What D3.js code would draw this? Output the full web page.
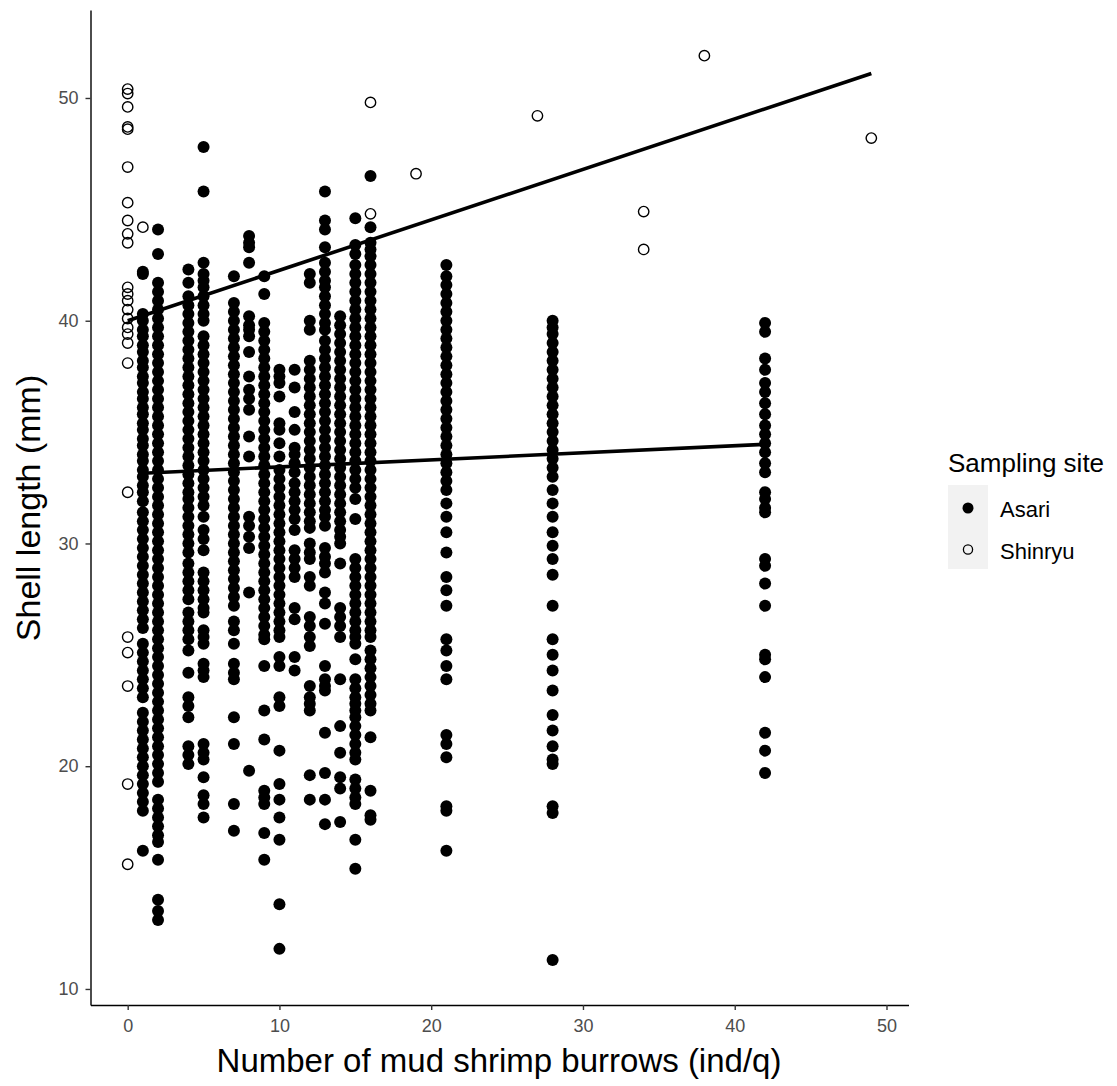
<!DOCTYPE html>
<html>
<head>
<meta charset="utf-8">
<script src="https://cdn.jsdelivr.net/npm/d3@7"></script>
<style>
html,body{margin:0;padding:0;background:#fff;}
text{font-family:"Liberation Sans",Arial,sans-serif;}
</style>
</head>
<body>
<svg id="chart" width="1117" height="1086"></svg>
<script>
// ---------- data ----------
const xTicks = [0, 10, 20, 30, 40, 50];
const yTicks = [10, 20, 30, 40, 50];
const siteNames = ["Asari", "Shinryu"];

// Shinryu (open circles)
const shinryuX = [0,0,0,0,0,0,0,0,0,0,1,0,0,0,0,0,0,0,0,0,0,0,0,0,0,0,16,16,19,27,34,34,38,49];
const shinryuY = [50.4,50.2,49.6,48.7,48.6,46.9,45.3,44.5,43.9,43.5,44.2,41.5,41.2,40.9,40.5,40.1,39.7,39.4,39.0,38.1,32.3,25.8,25.1,23.6,19.2,15.6,49.8,44.8,46.6,49.2,44.9,43.2,51.9,48.2];

// Asari (filled dots), shell lengths per burrow count
const asariX = [1, 2, 4, 5, 7, 8, 9, 10, 11, 12, 13, 14, 15, 16, 21, 28, 42];
const asari1 = [42.2,42.1,40.3,40.0,39.6,39.3,38.9,38.6,38.2,37.9,37.5,37.2,36.8,36.5,36.1,35.8,35.4,35.1,34.7,34.4,34.0,33.7,33.3,33.0,32.6,32.3,31.9,31.4,31.0,30.6,30.2,29.8,29.4,29.0,28.6,28.2,27.8,27.4,27.0,26.6,26.2,25.5,25.1,24.7,24.3,23.9,23.5,23.1,22.4,22.0,21.6,21.2,20.8,20.4,20.0,19.6,19.2,18.8,18.4,18.0,16.2];
const asari2 = [44.1,43.0,41.7,41.3,40.9,40.5,40.1,39.7,39.3,38.9,38.5,38.1,37.7,37.3,36.9,36.5,36.1,35.7,35.3,34.9,34.5,34.1,33.7,33.3,32.9,32.5,32.1,31.7,31.3,30.9,30.5,30.1,29.7,29.3,28.9,28.5,28.1,27.7,27.3,26.9,26.5,26.1,25.7,25.3,24.9,24.5,24.1,23.7,23.3,22.9,22.5,22.1,21.7,21.3,20.9,20.5,20.1,19.7,19.3,18.5,18.1,17.7,17.3,16.9,16.6,15.8,14.0,13.5,13.1];
const asari4 = [42.3,41.7,41.1,40.7,40.3,39.9,39.5,39.1,38.7,38.3,37.9,37.5,37.1,36.7,36.3,35.9,35.5,35.1,34.7,34.3,33.9,33.5,33.1,32.7,32.3,32.0,31.6,31.2,30.8,30.4,30.0,29.6,29.1,28.7,28.3,27.9,27.5,26.9,26.5,26.1,25.7,25.2,24.2,23.1,22.7,22.2,20.9,20.5,20.1];
const asari5 = [47.8,45.8,42.6,42.1,41.8,41.5,41.1,40.7,40.3,40.0,39.3,38.9,38.5,38.1,37.7,37.3,36.9,36.5,36.1,35.7,35.3,34.9,34.5,34.1,33.7,33.3,32.9,32.5,32.1,31.7,31.2,30.6,30.2,29.7,28.7,28.3,27.9,27.5,27.1,26.9,26.1,25.8,25.5,24.6,24.3,24.0,21.0,20.6,20.3,19.5,18.7,18.3,17.7];
const asari7 = [42.0,40.8,40.4,40.0,39.6,39.2,38.8,38.4,38.0,37.6,37.2,36.8,36.4,36.0,35.6,35.2,34.8,34.4,34.0,33.6,33.2,32.8,32.4,32.0,31.6,31.2,30.8,30.4,30.0,29.6,29.2,28.8,28.4,28.0,27.6,27.2,26.5,26.1,25.5,24.6,24.2,23.9,22.2,21.0,18.3,17.1];
const asari8 = [43.8,43.5,43.3,42.6,40.2,39.8,39.6,39.3,38.6,37.5,36.9,36.5,36.0,34.8,33.9,31.2,30.8,30.3,29.8,27.8,19.8];
const asari9 = [42.0,41.2,39.9,39.5,39.1,38.7,38.3,37.9,37.5,37.1,36.7,36.3,35.9,35.5,35.1,34.7,34.3,33.9,33.5,33.1,32.7,32.3,31.9,31.5,31.1,30.7,30.3,29.9,29.5,29.1,28.7,28.3,27.9,27.5,27.1,26.7,26.3,25.9,25.7,24.5,22.5,21.2,18.9,18.6,18.3,17.0,15.8];
const asari10 = [37.8,37.5,37.2,36.6,35.4,35.1,34.5,33.9,33.3,32.9,32.5,32.1,31.7,31.3,30.9,30.5,30.1,29.7,29.3,28.9,28.5,28.1,27.7,27.3,26.9,26.5,26.1,25.8,24.9,24.5,23.1,22.7,20.7,19.2,18.5,17.7,16.7,13.8,11.8];
const asari11 = [37.8,37.0,35.9,35.1,34.3,34.0,33.6,33.2,32.7,32.3,31.9,31.5,31.1,30.6,29.7,29.3,28.9,28.5,27.1,26.6,24.9,24.3];
const asari12 = [42.1,41.7,40.0,39.6,38.2,37.8,37.4,37.0,36.6,36.2,35.8,35.4,35.0,34.6,34.2,33.8,33.4,33.0,32.6,32.2,31.8,31.4,31.0,30.7,30.0,29.6,29.3,28.5,28.1,26.7,26.3,25.8,25.4,23.6,23.1,22.8,22.5,19.6,18.5];
const asari13 = [45.8,44.5,44.1,43.3,42.6,42.2,41.8,41.5,41.1,40.7,40.3,39.9,39.6,39.1,38.7,38.3,37.9,37.5,37.1,36.7,36.3,35.9,35.5,35.1,34.7,34.3,33.9,33.5,33.1,32.7,32.3,31.9,31.5,31.2,30.8,29.8,29.4,29.1,28.7,27.8,27.3,26.4,24.5,23.9,23.6,23.4,21.5,19.7,18.5,17.4];
const asari14 = [40.2,39.8,39.4,39.0,38.6,38.2,37.8,37.4,37.0,36.6,36.2,35.8,35.4,35.0,34.6,34.2,33.8,33.4,33.0,32.6,32.2,31.8,31.4,31.0,30.6,30.3,30.0,29.1,27.1,26.7,26.3,25.8,23.9,21.8,20.6,19.5,19.0,17.5];
const asari15 = [44.6,43.4,43.0,42.5,42.1,41.7,41.3,40.9,40.5,40.1,39.7,39.3,38.9,38.5,38.1,37.7,37.3,36.9,36.5,36.1,35.7,35.3,34.9,34.5,34.1,33.7,33.3,32.9,32.5,32.0,31.1,29.3,28.9,28.5,28.1,27.7,27.3,26.9,26.5,26.1,25.8,25.5,24.8,23.9,23.5,23.1,22.8,22.5,22.2,21.8,21.4,21.0,20.6,20.3,19.4,19.0,18.6,18.3,16.7,15.4];
const asari16 = [46.5,44.2,43.5,43.2,42.9,42.5,42.1,41.7,41.3,40.9,40.5,40.1,39.7,39.3,38.9,38.5,38.1,37.7,37.3,36.9,36.5,36.1,35.7,35.3,34.9,34.5,34.1,33.7,33.3,32.9,32.5,32.1,31.7,31.3,30.9,30.5,30.1,29.7,29.3,28.9,28.5,28.1,27.7,27.3,26.9,26.5,26.1,25.8,25.2,24.8,24.4,24.0,23.6,23.2,22.8,22.5,21.3,18.9,17.8,17.6];
const asari21 = [42.5,42.0,41.6,41.2,40.8,40.4,40.0,39.6,39.2,38.8,38.4,38.0,37.6,37.2,36.8,36.4,36.0,35.6,35.2,34.8,34.4,34.0,33.6,33.2,32.8,32.4,31.8,31.2,30.5,29.6,28.5,27.9,27.2,25.7,25.2,24.5,23.9,21.4,21.0,20.4,18.2,18.0,16.2];
const asari28 = [40.0,39.7,39.4,39.0,38.6,38.2,37.8,37.4,37.0,36.6,36.2,35.8,35.4,35.0,34.6,34.2,33.8,33.4,33.0,32.4,31.8,31.2,30.5,29.9,29.3,28.6,27.2,25.7,25.0,24.3,23.4,22.3,21.6,20.9,20.3,20.1,18.2,17.9,11.3];
const asari42 = [39.9,39.5,38.3,37.8,37.2,36.8,36.3,35.8,35.3,34.9,34.5,34.1,33.6,33.2,32.3,32.0,31.6,31.4,29.3,29.0,28.2,27.2,25.0,24.8,24.0,21.5,20.7,19.7];
const asariLengths = [asari1, asari2, asari4, asari5, asari7, asari8, asari9, asari10, asari11, asari12, asari13, asari14, asari15, asari16, asari21, asari28, asari42];

// fitted lm lines (endpoints)
const asariFitX = [1, 42];
const asariFitY = [33.15, 34.45];
const shinryuFitX = [0, 49];
const shinryuFitY = [40.0, 51.1];

// ---------- build ----------
const svg = d3.select("#chart");
const x = d3.scaleLinear().domain([-2.45, 51.45]).range([90.5, 908.5]);
const y = d3.scaleLinear().domain([9.28, 53.95]).range([1005, 10]);

const asariPts = [];
asariX.forEach((xv, i) => asariLengths[i].forEach(v => asariPts.push([xv, v])));
const shinPts = shinryuX.map((xv, i) => [xv, shinryuY[i]]);

const gPts = svg.append("g");
gPts.selectAll("circle.a").data(asariPts).enter().append("circle")
  .attr("class", "a")
  .attr("cx", d => x(d[0])).attr("cy", d => y(d[1])).attr("r", 6)
  .attr("fill", "#000");
gPts.selectAll("circle.s").data(shinPts).enter().append("circle")
  .attr("class", "s")
  .attr("cx", d => x(d[0])).attr("cy", d => y(d[1])).attr("r", 5.2)
  .attr("fill", "none").attr("stroke", "#000").attr("stroke-width", 1.4);

const line = d3.line().x(d => x(d[0])).y(d => y(d[1]));
svg.append("path").datum(asariFitX.map((v, i) => [v, asariFitY[i]]))
  .attr("d", line).attr("stroke", "#000").attr("stroke-width", 3.6).attr("fill", "none");
svg.append("path").datum(shinryuFitX.map((v, i) => [v, shinryuFitY[i]]))
  .attr("d", line).attr("stroke", "#000").attr("stroke-width", 3.6).attr("fill", "none");

// axes
const xAxis = svg.append("g").attr("transform", "translate(0,1005)")
  .call(d3.axisBottom(x).tickValues(xTicks).tickSize(5).tickSizeOuter(0).tickPadding(9));
const yAxis = svg.append("g").attr("transform", "translate(90.5,0)")
  .call(d3.axisLeft(y).tickValues(yTicks).tickSize(5).tickSizeOuter(0).tickPadding(7));
[xAxis, yAxis].forEach(g => {
  g.select(".domain").attr("stroke", "#000").attr("stroke-width", 1.4);
  g.selectAll(".tick line").attr("stroke", "#333").attr("stroke-width", 1.4);
  g.selectAll(".tick text").attr("fill", "#4d4d4d").style("font-size", "18px")
    .style("font-family", "'Liberation Sans', Arial, sans-serif");
});

// axis titles
svg.append("text").attr("x", 499).attr("y", 1072).attr("text-anchor", "middle")
  .style("font-size", "33px").attr("fill", "#000").text("Number of mud shrimp burrows (ind/q)");
svg.append("text").attr("transform", "translate(40,508) rotate(-90)").attr("text-anchor", "middle")
  .style("font-size", "34px").attr("fill", "#000").text("Shell length (mm)");

// legend
const lg = svg.append("g");
lg.append("text").attr("x", 948).attr("y", 472).style("font-size", "26px").attr("fill", "#000").text("Sampling site");
lg.append("rect").attr("x", 948).attr("y", 485).attr("width", 40).attr("height", 84).attr("fill", "#f2f2f2");
siteNames.forEach((nm, i) => {
  const cy = 508 + i * 41.5;
  if (i === 0) lg.append("circle").attr("cx", 968).attr("cy", cy).attr("r", 5.5).attr("fill", "#000");
  else lg.append("circle").attr("cx", 968).attr("cy", cy).attr("r", 4.6).attr("fill", "none").attr("stroke", "#000").attr("stroke-width", 1.3);
  lg.append("text").attr("x", 1000).attr("y", cy + 9).style("font-size", "22px").attr("fill", "#000").text(nm);
});
</script>
</body>
</html>
